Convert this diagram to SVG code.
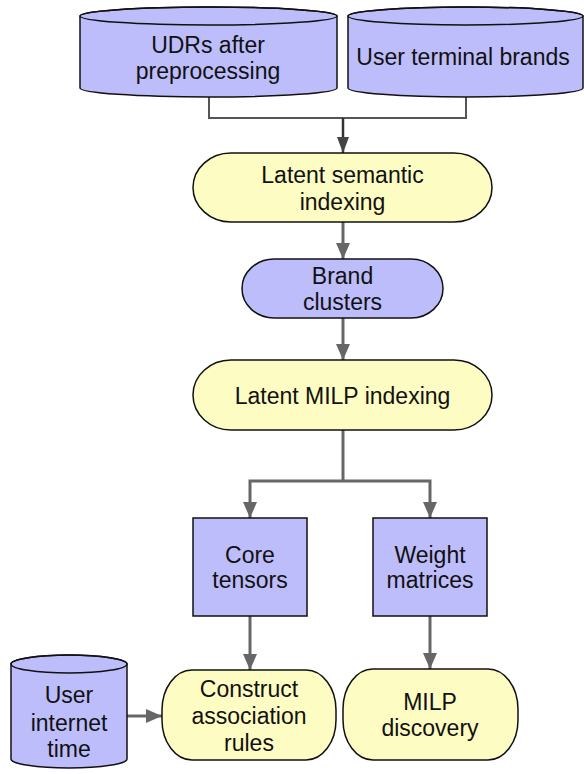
<svg xmlns="http://www.w3.org/2000/svg" width="584" height="774" viewBox="0 0 584 774">
  <style>
    .blue { fill: #bdbdfb; stroke: #111; stroke-width: 1.5; }
    .yellow { fill: #fdfcc2; stroke: #111; stroke-width: 1.5; }
    .lbl { font-family: "Liberation Sans", Arial, sans-serif; font-size: 23px; fill: #111; text-anchor: middle; }
    .conn { fill: none; stroke: #666; stroke-width: 3; }
    .thin { fill: none; stroke: #555; stroke-width: 2; }
  </style>
  <defs>
    <marker id="arr" markerUnits="userSpaceOnUse" markerWidth="16" markerHeight="16" viewBox="0 0 16 16" refX="16" refY="8" orient="auto">
      <path d="M0,1 L16,8 L0,15 Z" fill="#666"/>
    </marker>
    <marker id="arrDark" markerUnits="userSpaceOnUse" markerWidth="16" markerHeight="16" viewBox="0 0 16 16" refX="16" refY="8" orient="auto">
      <path d="M0,2 L16,8 L0,14 Z" fill="#444"/>
    </marker>
  </defs>

  <g id="connectors">
    <path class="thin" d="M209 97 V118 H466 V97"/>
    <path d="M343 118 V153" fill="none" stroke="#333" stroke-width="2.5" marker-end="url(#arrDark)"/>
    <path class="conn" d="M343 222 V259" marker-end="url(#arr)"/>
    <path class="conn" d="M343 318 V360" marker-end="url(#arr)"/>
    <path class="conn" d="M343 430 V481"/>
    <path class="conn" d="M343 481 H250 V518" marker-end="url(#arr)"/>
    <path class="conn" d="M343 481 H430 V518" marker-end="url(#arr)"/>
    <path class="conn" d="M250 616 V670" marker-end="url(#arr)"/>
    <path class="conn" d="M430 616 V669" marker-end="url(#arr)"/>
    <path class="conn" d="M127 716 H162" marker-end="url(#arr)"/>
  </g>

  <g id="udrs">
    <path class="blue" d="M80 16 A128.5 9 0 0 1 337 16 V88 A128.5 9 0 0 1 80 88 Z"/>
    <ellipse cx="208.5" cy="16" rx="128.5" ry="9" fill="none" stroke="#111" stroke-width="1.5"/>
    <text class="lbl" x="208" y="53">UDRs after</text>
    <text class="lbl" x="208" y="79">preprocessing</text>
  </g>

  <g id="brands">
    <path class="blue" d="M348 16 A117.5 9 0 0 1 583 16 V88 A117.5 9 0 0 1 348 88 Z"/>
    <ellipse cx="465.5" cy="16" rx="117.5" ry="9" fill="none" stroke="#111" stroke-width="1.5"/>
    <text class="lbl" x="463" y="65">User terminal brands</text>
  </g>

  <g id="lsi">
    <rect class="yellow" x="193" y="153" width="299" height="69" rx="38" ry="34.5"/>
    <text class="lbl" x="342.5" y="183">Latent semantic</text>
    <text class="lbl" x="342.5" y="210">indexing</text>
  </g>

  <g id="clusters">
    <rect class="blue" x="242" y="259" width="201" height="59" rx="32" ry="29.5"/>
    <text class="lbl" x="342.5" y="284">Brand</text>
    <text class="lbl" x="342.5" y="310">clusters</text>
  </g>

  <g id="milp-indexing">
    <rect class="yellow" x="193" y="360" width="299" height="70" rx="38" ry="35"/>
    <text class="lbl" x="342.5" y="404">Latent MILP indexing</text>
  </g>

  <g id="core">
    <rect class="blue" x="193" y="518" width="114" height="98"/>
    <text class="lbl" x="250" y="563">Core</text>
    <text class="lbl" x="250" y="588">tensors</text>
  </g>

  <g id="weights">
    <rect class="blue" x="373" y="518" width="114" height="98"/>
    <text class="lbl" x="430" y="563">Weight</text>
    <text class="lbl" x="430" y="588">matrices</text>
  </g>

  <g id="internet-time">
    <path class="blue" d="M11 664 A58 9 0 0 1 127 664 V759 A58 9 0 0 1 11 759 Z"/>
    <ellipse cx="69" cy="664" rx="58" ry="9" fill="none" stroke="#111" stroke-width="1.5"/>
    <text class="lbl" x="69" y="703">User</text>
    <text class="lbl" x="69" y="731">internet</text>
    <text class="lbl" x="69" y="757">time</text>
  </g>

  <g id="rules">
    <rect class="yellow" x="162" y="670" width="174" height="90" rx="30" ry="40"/>
    <text class="lbl" x="249" y="697">Construct</text>
    <text class="lbl" x="249" y="724">association</text>
    <text class="lbl" x="249" y="751">rules</text>
  </g>

  <g id="discovery">
    <rect class="yellow" x="343" y="669" width="175" height="91" rx="30" ry="40"/>
    <text class="lbl" x="430" y="710">MILP</text>
    <text class="lbl" x="430" y="736">discovery</text>
  </g>
</svg>
